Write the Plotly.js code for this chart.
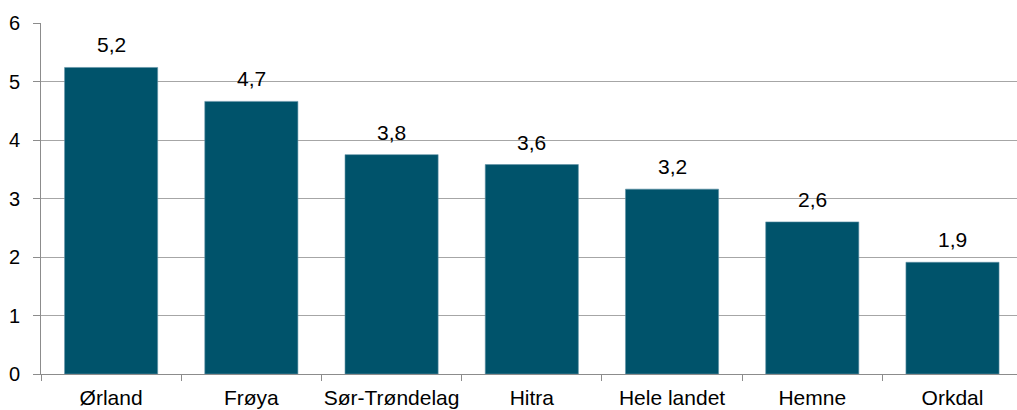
<!DOCTYPE html>
<html>
<head>
<meta charset="utf-8">
<script src="https://cdn.plot.ly/plotly-3.0.1.min.js"></script>
<style>html,body{margin:0;padding:0;background:#fff;}#chart{width:1017px;height:410px;}</style>
</head>
<body>
<div id="chart"></div>
<script>
const categories = ["Ørland", "Frøya", "Sør-Trøndelag", "Hitra", "Hele landet", "Hemne", "Orkdal"];
const values = [5.24, 4.66, 3.75, 3.58, 3.16, 2.60, 1.91];
const valueLabels = ["5,2", "4,7", "3,8", "3,6", "3,2", "2,6", "1,9"];
const yTicks = [0, 1, 2, 3, 4, 5, 6];

const font = {family: "Liberation Sans, Arial, sans-serif", size: 21, color: "#000"};
const yfont = {family: "Liberation Sans, Arial, sans-serif", size: 20, color: "#000"};

const trace = {
  type: "bar",
  x: categories,
  y: values,
  width: 0.664,
  marker: {color: "#00536B", line: {color: "#5f92a6", width: 0.6}},
  hoverinfo: "skip"
};

const annotations = categories.map((c, i) => ({
  x: c, y: values[i], text: valueLabels[i],
  xref: "x", yref: "y", showarrow: false,
  yanchor: "bottom", yshift: 9,
  font: font
}));

const layout = {
  width: 1017, height: 410,
  margin: {l: 41, r: 0, t: 23, b: 36},
  paper_bgcolor: "#fff", plot_bgcolor: "#fff",
  showlegend: false,
  font: font,
  xaxis: {
    type: "category",
    range: [-0.5, 6.46],
    tickangle: 0,
    showline: true, linecolor: "#8c8c8c", linewidth: 1,
    ticks: "outside", tickson: "boundaries", ticklen: 6, tickcolor: "#8c8c8c",
    ticklabelstandoff: 5,
    showgrid: false, zeroline: false,
    tickfont: font, fixedrange: true
  },
  yaxis: {
    range: [0, 6],
    tickvals: yTicks,
    ticktext: yTicks.map(String),
    showline: true, linecolor: "#8c8c8c", linewidth: 1,
    ticks: "outside", ticklen: 7, tickcolor: "#8c8c8c",
    ticklabelstandoff: 9,
    showgrid: true, gridcolor: "#a6a6a6", gridwidth: 1,
    zeroline: false,
    tickfont: yfont, fixedrange: true
  },
  annotations: annotations
};

Plotly.newPlot("chart", [trace], layout, {displayModeBar: false, staticPlot: true});
</script>
</body>
</html>
